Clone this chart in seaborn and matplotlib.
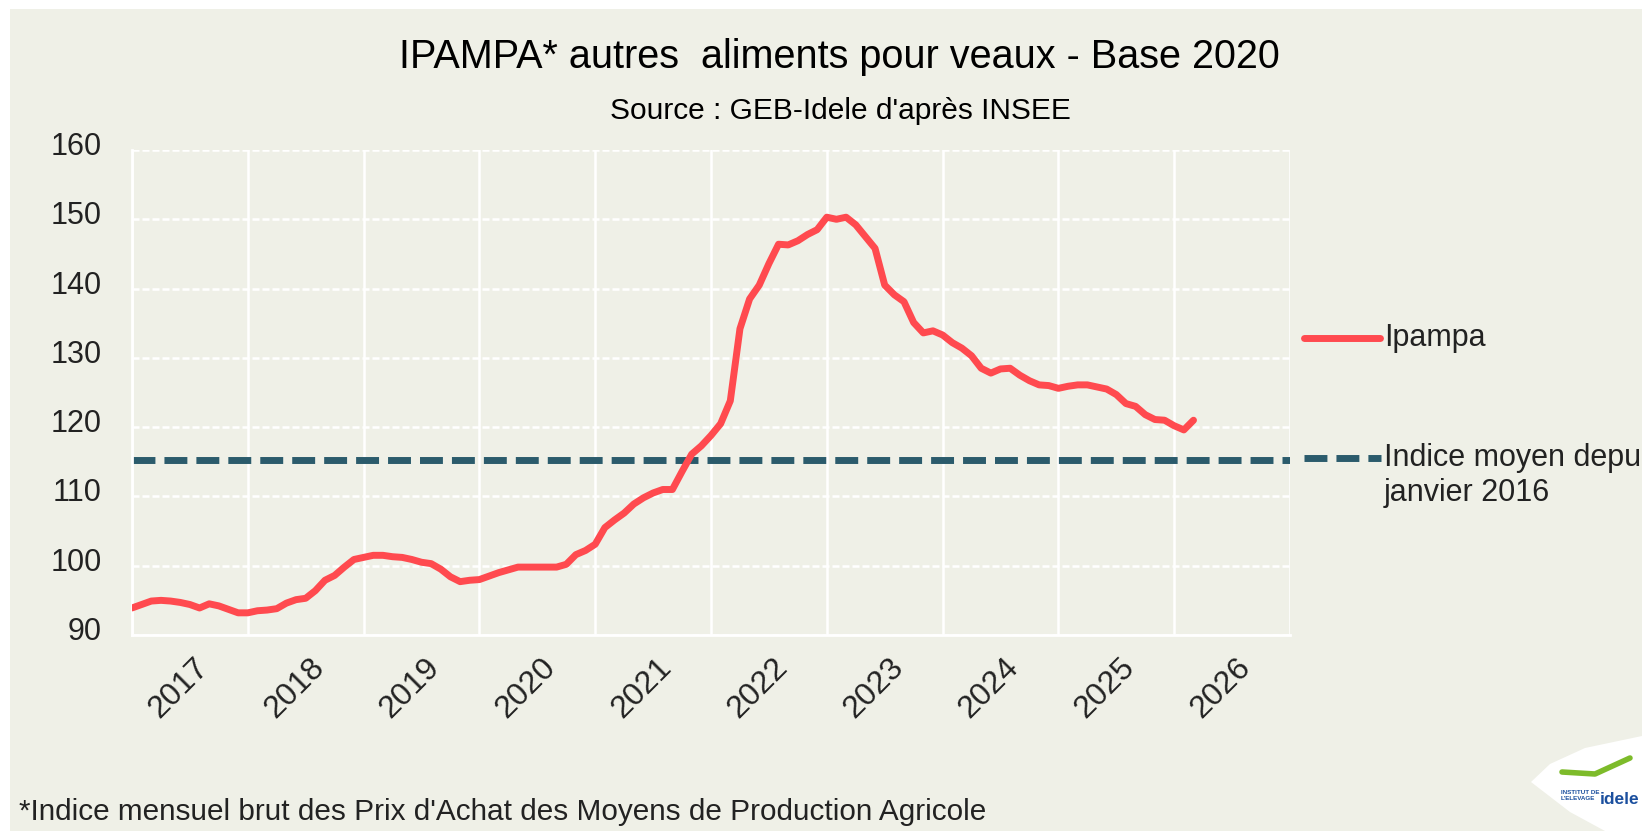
import matplotlib
matplotlib.use("Agg")
import matplotlib.pyplot as plt
import matplotlib.transforms as mtransforms
from matplotlib.lines import Line2D
from matplotlib.patches import Rectangle, Polygon
import seaborn as sns
import numpy as np

# IPAMPA autres aliments pour veaux, indice mensuel, janvier 2017 -> mars 2026
ipampa = [
    93.9, 94.4, 94.9, 95.0, 94.9, 94.7, 94.4, 93.9, 94.5, 94.2, 93.7, 93.2,   # 2017
    93.2, 93.5, 93.6, 93.8, 94.6, 95.1, 95.3, 96.4, 97.9, 98.6, 99.8, 100.9,  # 2018
    101.2, 101.5, 101.5, 101.3, 101.2, 100.9, 100.5, 100.3, 99.5, 98.4, 97.7, 97.9,  # 2019
    98.0, 98.5, 99.0, 99.4, 99.8, 99.8, 99.8, 99.8, 99.8, 100.2, 101.6, 102.2,  # 2020
    103.1, 105.5, 106.6, 107.6, 108.9, 109.8, 110.5, 111.0, 111.0, 113.6, 116.1, 117.3,  # 2021
    118.8, 120.5, 123.8, 134.2, 138.5, 140.5, 143.6, 146.4, 146.3, 146.9, 147.8, 148.5,  # 2022
    150.3, 150.0, 150.3, 149.2, 147.5, 145.8, 140.5, 139.1, 138.1, 135.1, 133.6, 133.9,  # 2023
    133.3, 132.2, 131.4, 130.3, 128.5, 127.8, 128.4, 128.5, 127.5, 126.7, 126.1, 126.0,  # 2024
    125.6, 125.9, 126.1, 126.1, 125.8, 125.5, 124.7, 123.4, 123.0, 121.8, 121.1, 121.0,  # 2025
    120.2, 119.6, 121.0,  # 2026
]
months = np.arange(len(ipampa))
mean_index = 115.2  # indice moyen depuis janvier 2016
year_labels = [str(y) for y in range(2017, 2027)]

W, H = 1642, 831
BG = '#EFF0E7'
RED = '#FF4A4F'
TEAL = '#2B5B6C'

sns.set_style("white")
plt.rcParams['font.family'] = ['Liberation Sans', 'DejaVu Sans']

fig = plt.figure(figsize=(W / 100, H / 100), dpi=100)
fig.patch.set_facecolor('white')
fig.add_artist(Rectangle((10 / W, 0), 1, 1 - 9 / H, transform=fig.transFigure,
                         facecolor=BG, edgecolor='none', zorder=-10))

ax = fig.add_axes([132 / W, 1 - 635 / H, (1290 - 132) / W, (635 - 150) / H])
ax.set_facecolor(BG)

sns.lineplot(x=months, y=ipampa, ax=ax, color=RED, linewidth=5,
             solid_capstyle='round', solid_joinstyle='round', zorder=3)
ax.axhline(mean_index, color=TEAL, lw=5, dashes=(3.3, 1.3),
           dash_capstyle='butt', zorder=2)

ax.set_xlim(0, 120)
ax.set_ylim(90, 160)
ax.set_xticks(range(0, 121, 12))
ax.set_yticks(range(90, 161, 10))
ax.set_xticks(range(6, 120, 12), minor=True)
ax.set_xticklabels(year_labels, minor=True, rotation=45, ha='right',
                   va='center', rotation_mode='anchor')
ax.set_xlabel('')
ax.set_ylabel('')

ax.xaxis.grid(True, color='white', lw=1.8, ls='-')
ax.yaxis.grid(True, color='white', lw=1.8, ls=(0, (2.8, 1.2)))
ax.set_axisbelow(True)
for side in ['top', 'right']:
    ax.spines[side].set_visible(False)
for side in ['left', 'bottom']:
    ax.spines[side].set_color('white')
    ax.spines[side].set_linewidth(2)

ax.tick_params(axis='x', which='major', labelbottom=False, length=6.5,
               color='white', width=1.8, direction='out')
ax.tick_params(axis='x', which='minor', length=0, pad=20, labelsize=23,
               labelcolor='#222222')
ax.tick_params(axis='y', length=0, pad=22, labelsize=22, labelcolor='#222222')
yoff = mtransforms.ScaledTranslation(0, 6.5 / 100, fig.dpi_scale_trans)
for lab in ax.get_yticklabels():
    lab.set_transform(lab.get_transform() + yoff)
xoff = mtransforms.ScaledTranslation(14 / 100, 0, fig.dpi_scale_trans)
for lab in ax.get_xticklabels(minor=True):
    lab.set_transform(lab.get_transform() + xoff)

# titles
fig.text(839 / W, 1 - 68 / H, 'IPAMPA* autres  aliments pour veaux - Base 2020',
         ha='center', va='baseline', fontsize=28.5, color='black')
fig.text(840 / W, 1 - 119 / H, "Source : GEB-Idele d'après INSEE",
         ha='center', va='baseline', fontsize=21.5, color='black')

# legend drawn at the right of the plot area
fig.add_artist(Line2D([1304 / W, 1380 / W], [1 - 338 / H] * 2,
                      transform=fig.transFigure, color=RED, lw=5))
fig.text(1384 / W, 1 - 338 / H, 'Ipampa', va='center', fontsize=22, color='#222222')
fig.add_artist(Line2D([1304 / W, 1381 / W], [1 - 458 / H] * 2,
                      transform=fig.transFigure, color=TEAL, lw=5,
                      dashes=(3.3, 1.3), dash_capstyle='butt'))
fig.text(1384 / W, 1 - 458 / H, 'Indice moyen depuis', va='center',
         fontsize=22, color='#222222')
fig.text(1384 / W, 1 - 493 / H, 'janvier 2016', va='center',
         fontsize=22, color='#222222')

# footnote
fig.text(19 / W, 1 - 820 / H,
         "*Indice mensuel brut des Prix d'Achat des Moyens de Production Agricole",
         ha='left', va='baseline', fontsize=21.4, color='#222222')

# logo
leaf = [(1531, 782), (1550, 764), (1585, 748), (1642, 736), (1642, 831),
        (1605, 831), (1570, 812)]
fig.add_artist(Polygon([(x / W, 1 - y / H) for x, y in leaf], closed=True,
                       transform=fig.transFigure, facecolor='white',
                       edgecolor='none', zorder=5))
fig.add_artist(Line2D([1562 / W, 1595 / W, 1630 / W],
                      [1 - 772 / H, 1 - 774 / H, 1 - 758 / H],
                      transform=fig.transFigure, color='#7DBB2A', lw=4, zorder=6))
fig.text(1561 / W, 1 - 790 / H, "INSTITUT DE\nL'ELEVAGE", fontsize=4.5,
         fontweight='bold', color='#1B4F9E', va='top', zorder=7)
fig.text(1600 / W, 1 - 804 / H, 'idele', fontsize=12.5, fontweight='bold',
         color='#1B4F9E', va='baseline', zorder=7)

fig.savefig('out.png', dpi=100, facecolor=fig.get_facecolor())
